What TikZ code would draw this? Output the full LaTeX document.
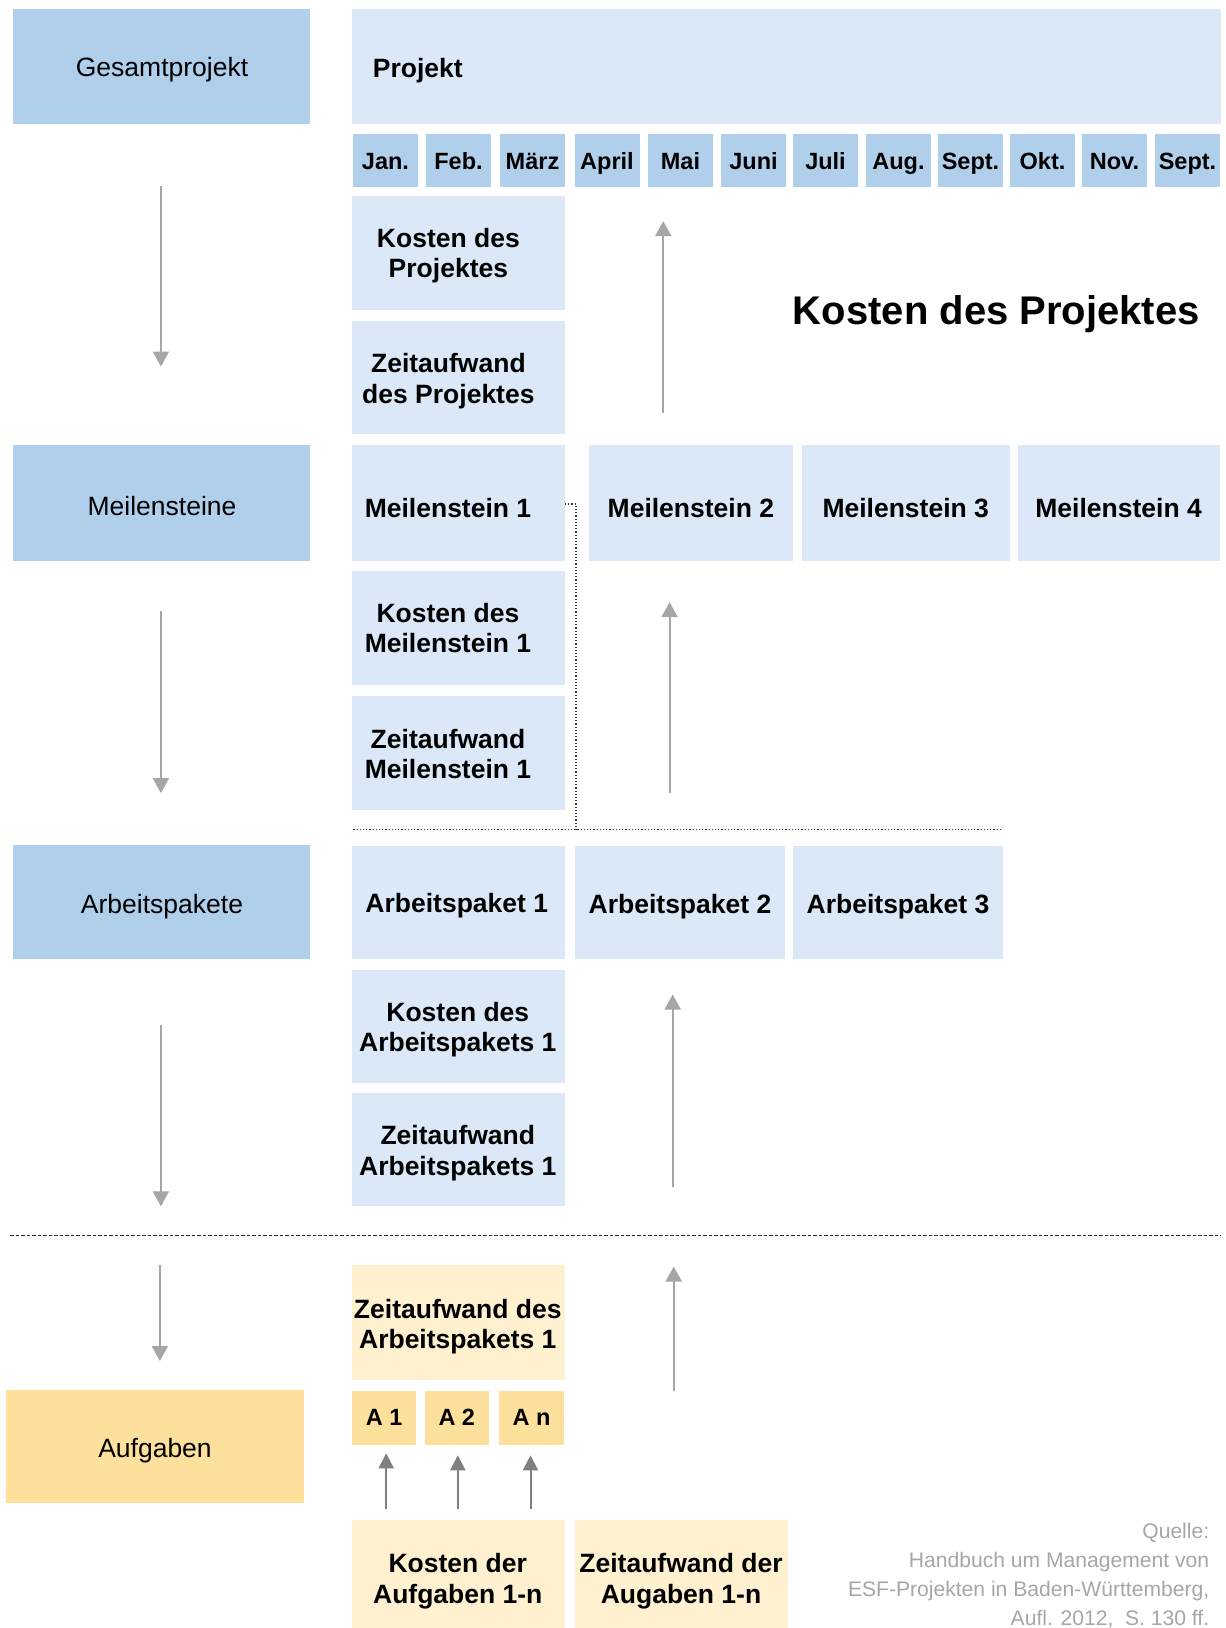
\documentclass[tikz,border=0pt]{standalone}
\usepackage{fontspec}
\setmainfont{Liberation Sans}
\usetikzlibrary{arrows.meta,fit}
\definecolor{bdark}{RGB}{176,207,235}
\definecolor{blight}{RGB}{218,232,247}
\definecolor{ydark}{RGB}{253,224,155}
\definecolor{ylight}{RGB}{255,241,208}
\definecolor{agray}{RGB}{166,166,166}
\definecolor{adark}{RGB}{128,128,128}
\begin{document}
\begin{tikzpicture}[x=1pt,y=-1pt,
  boxbase/.style={inner sep=0pt, draw=none},
  lbox/.style={fill=bdark, boxbase},
  ybox/.style={fill=ydark, boxbase},
  libox/.style={fill=blight, boxbase},
  ylbox/.style={fill=ylight, boxbase},
  reg/.style={font=\fontsize{26.5}{31}\selectfont, text=black, text height=19pt, text depth=0pt, inner sep=0pt},
  bt/.style={font=\fontsize{26.5}{30.5}\selectfont\bfseries, align=center, text=black, inner sep=0pt},
  bt1/.style={font=\fontsize{26.5}{30.5}\selectfont\bfseries, text=black, text height=19pt, text depth=0pt, inner sep=0pt},
  mt/.style={font=\fontsize{23.5}{28}\selectfont\bfseries, text=black, text height=16.8pt, text depth=0pt, inner sep=0pt},
  garrow/.style={draw=agray, line width=2pt, -{Triangle[length=15pt,width=16pt]}},
  darrow/.style={draw=adark, line width=2pt, -{Triangle[length=15pt,width=15pt]}},
  dotline/.style={draw=black!80, line width=1.2pt, dotted},
  dashline/.style={draw=black!85, line width=1.2pt, dash pattern=on 3.5pt off 2pt}
]
\useasboundingbox (0,0) rectangle (1226,1628);

% left column
\node[lbox, fit={(12.5,9.3)(310.4,123.5)}] (gp) {};
\node[reg] (gpt) at (162,67) {Gesamtprojekt};
\node[lbox, fit={(12.5,445.4)(310.4,560.6)}] (ms) {};
\node[reg] (mst) at (162,506) {Meilensteine};
\node[lbox, fit={(12.5,845.1)(310.4,959.2)}] (ap) {};
\node[reg] (apt) at (162,904) {Arbeitspakete};
\node[ybox, fit={(6.2,1390)(304.2,1503.2)}] (au) {};
\node[reg] (aut) at (155,1448) {Aufgaben};

% project
\node[libox, fit={(352,9.3)(1220.8,123.5)}] (pj) {};
\node[bt1, anchor=west] (pjt) at (372.7,67.5) {Projekt};

% months
\foreach \x/\m [count=\i] in {353/Jan., 426/Feb., 500/März, 574.5/April, 648/Mai, 721/Juni, 793/Juli, 866/Aug., 938/Sept., 1010/Okt., 1082/Nov., 1155/Sept.}{
  \node[lbox, fit={(\x,133.9)(\x+65,186.9)}] (mo\i) {};
  \node[mt] (mot\i) at ({\x+32.5},161) {\m};
}

% project level
\node[libox, fit={(352,196.2)(564.7,310.4)}] (kp) {};
\node[bt] (kpt) at (448.4,255.8) {Kosten des\\Projektes};
\node[libox, fit={(352,320.8)(564.7,433.9)}] (zp) {};
\node[bt] (zpt) at (448.4,380.9) {Zeitaufwand\\des Projektes};
\node[font=\fontsize{40}{48}\selectfont\bfseries, inner sep=0pt, anchor=east, text height=28.6pt, text depth=0pt] (big) at (1200,310) {Kosten des Projektes};

% milestones
\node[libox, fit={(352,445.4)(564.7,560.6)}] (m1) {};
\node[bt1] (m1t) at (448,508) {Meilenstein 1};
\node[libox, fit={(588.6,445.4)(793.1,560.6)}] (m2) {};
\node[bt1] (m2t) at (690.9,508) {Meilenstein 2};
\node[libox, fit={(802.4,445.4)(1010.1,560.6)}] (m3) {};
\node[bt1] (m3t) at (905.7,508) {Meilenstein 3};
\node[libox, fit={(1018.4,445.4)(1219.8,560.6)}] (m4) {};
\node[bt1] (m4t) at (1118.6,508) {Meilenstein 4};
\node[libox, fit={(352,571)(564.7,685.2)}] (km) {};
\node[bt] (kmt) at (448,628.2) {Kosten des\\Meilenstein 1};
\node[libox, fit={(352,695.5)(564.7,809.7)}] (zm) {};
\node[bt] (zmt) at (448,754) {Zeitaufwand\\Meilenstein 1};

% work packages
\node[libox, fit={(352,846)(564.7,959)}] (a1) {};
\node[bt1] (a1t) at (456.8,902.5) {Arbeitspaket 1};
\node[libox, fit={(575,846)(784.8,959)}] (a2) {};
\node[bt1] (a2t) at (680,904) {Arbeitspaket 2};
\node[libox, fit={(793,846)(1002.8,959)}] (a3) {};
\node[bt1] (a3t) at (898,904) {Arbeitspaket 3};
\node[libox, fit={(352,969.6)(564.7,1082.7)}] (ka) {};
\node[bt] (kat) at (457.8,1029.7) {Kosten des\\Arbeitspakets 1};
\node[libox, fit={(352,1093)(564.7,1206.3)}] (za) {};
\node[bt] (zat) at (457.8,1153.2) {Zeitaufwand\\Arbeitspakets 1};

% tasks
\node[ylbox, fit={(352,1265.4)(564.7,1379.6)}] (zd) {};
\node[bt] (zdt) at (457.8,1326.5) {Zeitaufwand des\\Arbeitspakets 1};
\node[ybox, fit={(352,1391)(416.3,1445)}] (t1) {};
\node[mt] (t1t) at (384.2,1417.5) {A 1};
\node[ybox, fit={(424.6,1391)(489,1445)}] (t2) {};
\node[mt] (t2t) at (456.8,1417.5) {A 2};
\node[ybox, fit={(499.3,1391)(563.7,1445)}] (tn) {};
\node[mt] (tnt) at (531.5,1417.5) {A n};
\node[ylbox, fit={(352,1519.8)(564.7,1640)}] (kd) {};
\node[bt] (kdt) at (457.8,1581) {Kosten der\\Aufgaben 1-n};
\node[ylbox, fit={(575,1519.8)(787.9,1640)}] (zg) {};
\node[bt] (zgt) at (681,1581) {Zeitaufwand der\\Augaben 1-n};

% source
\node[font=\fontsize{21.1}{29.1}\selectfont, text=agray, align=right, anchor=east, inner sep=0pt] (src) at (1209.4,1576)
  {Quelle:\\Handbuch um Management von\\ESF-Projekten in Baden-Württemberg,\\Aufl. 2012,\hspace{0.55em}S. 130 ff.};

% lines
\coordinate (st) at (576,504);
\coordinate (sb) at (576,829.4);
\draw[dotline] (m1.east |- st) -- (st) -- (sb);
\coordinate (dl1) at (353.4,829.4);
\coordinate (dl2) at (1003,829.4);
\draw[dotline] (dl1) -- (dl2);
\coordinate (ds1) at (10.4,1235.3);
\coordinate (ds2) at (1220.8,1235.3);
\draw[dashline] (ds1) -- (ds2);

% down arrows (left)
\coordinate (d1a) at (160.9,185.8); \coordinate (d1b) at (160.9,366.5);
\coordinate (d2a) at (160.9,611.4); \coordinate (d2b) at (160.9,793.1);
\coordinate (d3a) at (160.9,1024.6); \coordinate (d3b) at (160.9,1206.3);
\coordinate (d4a) at (159.9,1265.4); \coordinate (d4b) at (159.9,1361);
\draw[garrow] (d1a) -- (d1b);
\draw[garrow] (d2a) -- (d2b);
\draw[garrow] (d3a) -- (d3b);
\draw[garrow] (d4a) -- (d4b);

% up arrows
\coordinate (u1a) at (663.3,413.2); \coordinate (u1b) at (663.3,221.1);
\coordinate (u2a) at (669.6,793.1); \coordinate (u2b) at (669.6,602.1);
\coordinate (u3a) at (672.7,1186.5); \coordinate (u3b) at (672.7,994.5);
\coordinate (u4a) at (673.7,1391); \coordinate (u4b) at (673.7,1266.5);
\draw[garrow] (u1a) -- (u1b);
\draw[garrow] (u2a) -- (u2b);
\draw[garrow] (u3a) -- (u3b);
\draw[garrow] (u4a) -- (u4b);

% small arrows to tasks
\coordinate (s1a) at (386.2,1509.3); \coordinate (s1b) at (386.2,1453.3);
\coordinate (s2a) at (457.8,1509.3); \coordinate (s2b) at (457.8,1455.3);
\coordinate (s3a) at (530.5,1509.3); \coordinate (s3b) at (530.5,1455.3);
\draw[darrow] (s1a) -- (s1b);
\draw[darrow] (s2a) -- (s2b);
\draw[darrow] (s3a) -- (s3b);
\end{tikzpicture}
\end{document}
